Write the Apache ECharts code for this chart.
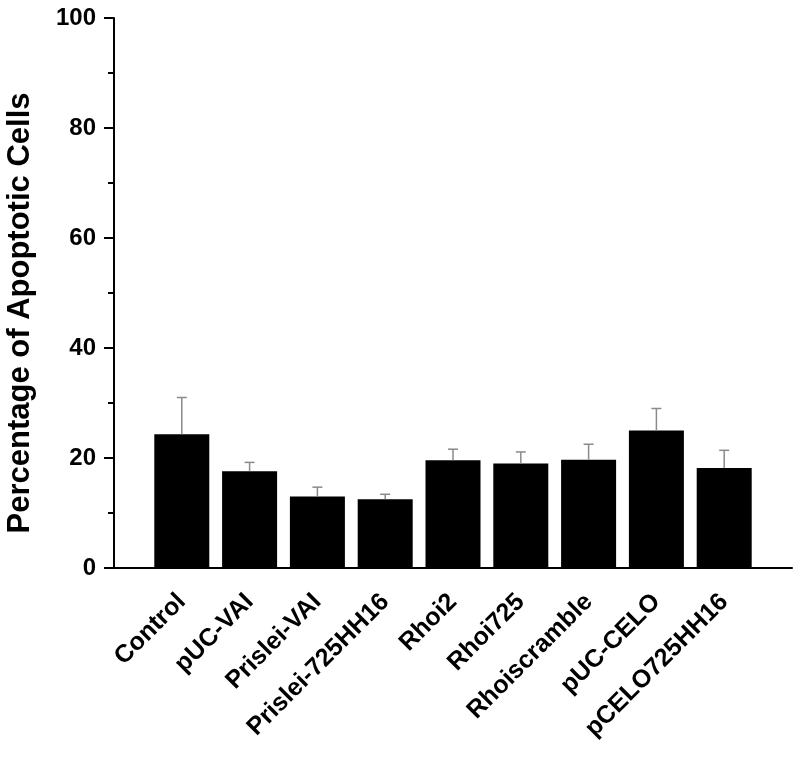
<!DOCTYPE html>
<html>
<head>
<meta charset="utf-8">
<script src="https://cdn.jsdelivr.net/npm/echarts@6/dist/echarts.min.js"></script>
<style>
  html, body { margin: 0; padding: 0; background: #fff; }
  #chart { width: 800px; height: 762px; }
</style>
</head>
<body>
<div id="chart"></div>
<script>
const categories = ['Control', 'pUC-VAI', 'Prislei-VAI', 'Prislei-725HH16', 'Rhoi2', 'Rhoi725', 'Rhoiscramble', 'pUC-CELO', 'pCELO725HH16']
const means = [24.3, 17.6, 13.0, 12.5, 19.6, 19.0, 19.7, 25.0, 18.2]
const errors = [6.7, 1.6, 1.7, 0.9, 2.0, 2.1, 2.8, 4.0, 3.2]
const yTicks = [0, 20, 40, 60, 80, 100]

const font = '"Liberation Sans", Arial, sans-serif'

const chart = echarts.init(document.getElementById('chart'))

const option = {
  animation: false,
  grid: { left: 114, right: 8, top: 18, bottom: 194, outerBoundsMode: 'none' },
  xAxis: {
    type: 'value',
    min: -1,
    max: categories.length,
    interval: 1,
    splitLine: { show: false },
    axisTick: { show: false },
    axisLine: { show: true, onZero: false, lineStyle: { color: '#000', width: 2 } },
    axisLabel: {
      rotate: 45,
      margin: 30,
      color: '#000',
      fontFamily: font,
      fontWeight: 'bold',
      fontSize: 25,
      formatter: (v) => categories[v] || '',
    },
  },
  yAxis: {
    type: 'value',
    min: yTicks[0],
    max: yTicks[yTicks.length - 1],
    interval: 20,
    name: 'Percentage of Apoptotic Cells',
    nameLocation: 'middle',
    nameGap: 78,
    nameTextStyle: { color: '#000', fontFamily: font, fontWeight: 'bold', fontSize: 31, padding: [0, 40, 0, 0] },
    splitLine: { show: false },
    axisLine: { show: true, onZero: false, lineStyle: { color: '#000', width: 2 } },
    axisTick: { show: true, length: 10, lineStyle: { color: '#000', width: 2 } },
    minorTick: { show: true, splitNumber: 2, length: 6, lineStyle: { color: '#000', width: 2 } },
    axisLabel: { color: '#000', fontFamily: font, fontWeight: 'bold', fontSize: 24, margin: 18 },
  },
  series: [
    {
      type: 'bar',
      barWidth: 55,
      itemStyle: { color: '#000' },
      data: means.map((v, i) => [i, v]),
      z: 2,
    },
    {
      type: 'custom',
      z: 3,
      data: means.map((v, i) => [i, v, v + errors[i]]),
      renderItem: (params, api) => {
        const base = api.coord([api.value(0), api.value(1)])
        const top = api.coord([api.value(0), api.value(2)])
        const half = 5
        const style = { stroke: '#8a8a8a', lineWidth: 1.5 }
        return {
          type: 'group',
          children: [
            { type: 'line', shape: { x1: base[0], y1: base[1], x2: top[0], y2: top[1] }, style },
            { type: 'line', shape: { x1: top[0] - half, y1: top[1], x2: top[0] + half, y2: top[1] }, style },
          ],
        }
      },
    },
  ],
}

chart.setOption(option)
</script>
</body>
</html>
